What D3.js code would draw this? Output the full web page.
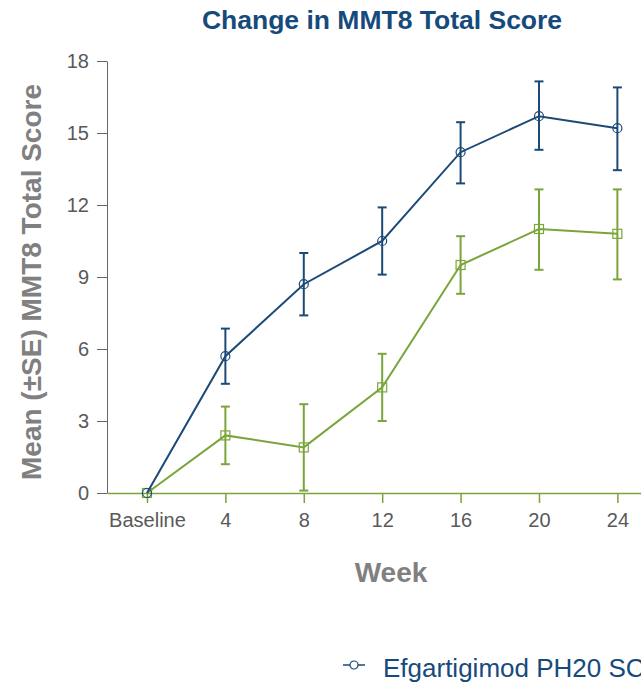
<!DOCTYPE html>
<html><head><meta charset="utf-8">
<script src="https://cdn.jsdelivr.net/npm/d3@7"></script>
<style>body{margin:0;background:#fff;overflow:hidden}svg{display:block}</style>
</head><body>
<script>
const weeks = [0, 4, 8, 12, 16, 20, 24];
const weekLabels = ["Baseline", "4", "8", "12", "16", "20", "24"];
const blueMean = [0, 5.7, 8.7, 10.5, 14.2, 15.7, 15.2];
const blueLow  = [0, 4.55, 7.4, 9.1, 12.9, 14.3, 13.45];
const blueHigh = [0, 6.85, 10.0, 11.9, 15.45, 17.15, 16.9];
const greenMean = [0, 2.4, 1.9, 4.4, 9.5, 11.0, 10.8];
const greenLow  = [0, 1.2, 0.1, 3.0, 8.3, 9.3, 8.9];
const greenHigh = [0, 3.6, 3.7, 5.8, 10.7, 12.65, 12.65];
const yTicks = [0, 3, 6, 9, 12, 15, 18];
const seriesName = "Efgartigimod PH20 SC";

const W = 641, H = 685;
const BLUE = "#1b4a77", GREEN = "#7aa53b", GRAY = "#666666";
const FONT = "'Liberation Sans', Arial, sans-serif";
const svg = d3.select("body").append("svg").attr("width", W).attr("height", H)
  .style("font-family", FONT);

const x = d3.scaleLinear().domain([-2.04, 28]).range([107, 107 + 30.04 * 19.6]);
const y = d3.scaleLinear().domain([0, 18]).range([493, 61]);

// title
svg.append("text").attr("x", 382).attr("y", 29).attr("text-anchor", "middle")
  .attr("font-size", 26.5).attr("font-weight", "bold").attr("fill", "#174a7c")
  .text("Change in MMT8 Total Score");

// y axis
const ya = svg.append("g").attr("transform", "translate(107,0)")
  .call(d3.axisLeft(y).tickValues(yTicks).tickSize(10).tickPadding(8).tickSizeOuter(0));
ya.attr("font-size", 20).attr("font-family", FONT);
ya.select(".domain").attr("stroke", GRAY);
ya.selectAll(".tick line").attr("stroke", GRAY);
ya.selectAll(".tick text").attr("fill", "#595959");

// x axis
const xa = svg.append("g").attr("transform", "translate(0,493)")
  .call(d3.axisBottom(x).tickValues(weeks).tickFormat((d, i) => weekLabels[i])
    .tickSize(10).tickPadding(10).tickSizeOuter(0));
xa.attr("font-size", 20).attr("font-family", FONT);
xa.select(".domain").attr("stroke", GREEN).attr("stroke-width", 1.5);
xa.selectAll(".tick line").attr("stroke", GREEN).attr("stroke-width", 1.5);
xa.selectAll(".tick text").attr("fill", "#595959");

// axis titles
svg.append("text").attr("transform", "translate(41,282) rotate(-90)")
  .attr("text-anchor", "middle").attr("font-size", 28).attr("font-weight", "bold")
  .attr("fill", "#808080").text("Mean (±SE) MMT8 Total Score");
svg.append("text").attr("x", 391).attr("y", 582).attr("text-anchor", "middle")
  .attr("font-size", 28).attr("font-weight", "bold").attr("fill", "#808080").text("Week");

function drawSeries(mean, low, high, color, marker) {
  const g = svg.append("g");
  const pts = weeks.map((w, i) => ({w, m: mean[i], lo: low[i], hi: high[i]}));
  g.append("path").datum(pts).attr("fill", "none").attr("stroke", color).attr("stroke-width", 2)
    .attr("d", d3.line().x(d => x(d.w)).y(d => y(d.m)));
  const eb = g.selectAll(".eb").data(pts.filter(d => d.hi > d.lo)).enter().append("g");
  eb.append("line").attr("x1", d => x(d.w)).attr("x2", d => x(d.w))
    .attr("y1", d => y(d.lo)).attr("y2", d => y(d.hi)).attr("stroke", color).attr("stroke-width", 2);
  [d => d.lo, d => d.hi].forEach(f => {
    eb.append("line").attr("x1", d => x(d.w) - 4.5).attr("x2", d => x(d.w) + 4.5)
      .attr("y1", d => y(f(d))).attr("y2", d => y(f(d))).attr("stroke", color).attr("stroke-width", 2);
  });
  if (marker === "circle") {
    g.selectAll(".mk").data(pts).enter().append("circle")
      .attr("cx", d => x(d.w)).attr("cy", d => y(d.m)).attr("r", 4.5)
      .attr("fill", "none").attr("stroke", color).attr("stroke-width", 1.2);
  } else {
    g.selectAll(".mk").data(pts).enter().append("rect")
      .attr("x", d => x(d.w) - 4.5).attr("y", d => y(d.m) - 4.5).attr("width", 9).attr("height", 9)
      .attr("fill", "none").attr("stroke", color).attr("stroke-width", 1.2);
  }
}
drawSeries(greenMean, greenLow, greenHigh, GREEN, "square");
drawSeries(blueMean, blueLow, blueHigh, BLUE, "circle");

// legend
const lg = svg.append("g").attr("transform", "translate(343,665)");
lg.append("line").attr("x1", 0).attr("x2", 22).attr("y1", 0).attr("y2", 0).attr("stroke", BLUE).attr("stroke-width", 1.5);
lg.append("circle").attr("cx", 11).attr("cy", 0).attr("r", 4).attr("fill", "#fff").attr("stroke", BLUE).attr("stroke-width", 1.2);
lg.append("text").attr("x", 40).attr("y", 12).attr("font-size", 26).attr("fill", "#174a7c").text(seriesName);
</script>
</body></html>
